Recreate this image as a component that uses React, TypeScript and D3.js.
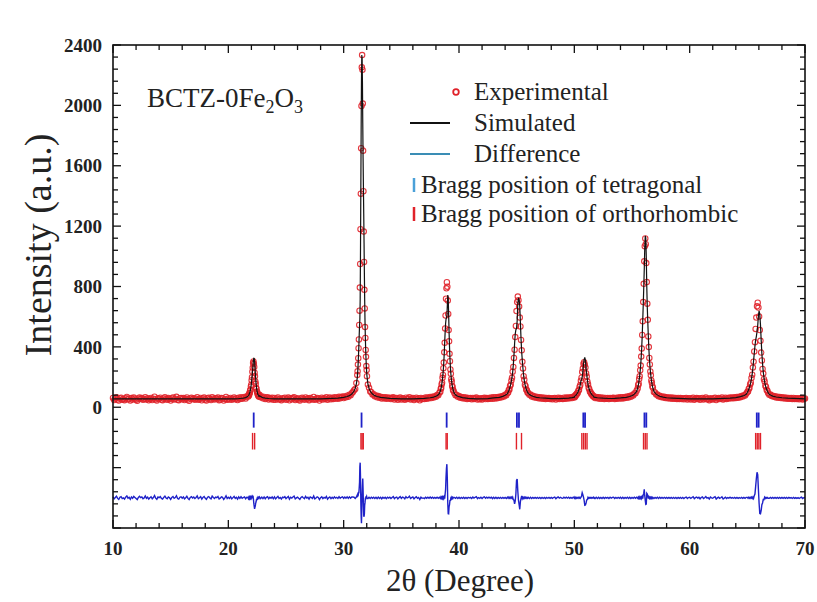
import React from "react";
import * as d3 from "d3";

const _ = null;

// axis ticks
const xTickLabels = [10, 20, 30, 40, 50, 60, 70];
const yTickLabels = [0, 400, 800, 1200, 1600, 2000, 2400];
const X_DOMAIN = [10, 70];
const Y_DOMAIN = [-800, 2400];
const DIFF_OFFSET = -600;

// experimental scan away from the peaks: one value every 0.1 deg from 10 to 70 (null = covered by the fine peak scans)
const BG_START = 10;
const BG_STEP = 0.1;
const expBackground: (number | null)[] = [
  62, 48, 57, 66, 51, 44, 59, 63, 50, 55,
  47, 60, 68, 53, 58, 45, 61, 52, 64, 57,
  50, 43, 58, 65, 56, 61, 49, 54, 67, 52,
  59, 46, 55, 62, 48, 57, 70, 53, 45, 60,
  56, 63, 51, 47, 58, 66, 54, 49, 61, 55,
  44, 58, 64, 52, 57, 69, 50, 46, 59, 62,
  53, 61, 48, 56, 65, 51, 43, 58, 63, 54,
  60, 50, 57, 67, 49, 55, 62, 46, 58, 64,
  52, 45, 59, 63, 54, 48, 66, 57, 51, 60,
  56, 64, 47, 53, 61, 58, 44, 55, 68, 50,
  58, 51, 62, 49, 57, 65, 53, 60, 48, 63,
  54, 66, 57, 63, 68, 58, 71, _, _, _,
  _, _, _, _, _, _, _, 82, 66, 72,
  59, 68, 55, 63, 66, 52, 61, 54, 63, 50,
  62, 49, 58, 65, 51, 57, 47, 60, 56, 63,
  50, 57, 64, 46, 59, 53, 61, 67, 48, 55,
  60, 52, 45, 58, 63, 56, 50, 65, 54, 59,
  47, 61, 57, 52, 68, 49, 55, 62, 58, 44,
  57, 63, 51, 60, 55, 66, 49, 58, 64, 53,
  62, 55, 66, 58, 64, 57, 69, 60, 67, 71,
  61, 72, 66, 77, 70, 83, 79, 92, 101, 112,
  121, 160, _, _, _, _, _, _, _, _,
  _, 150, 129, 104, 100, 84, 86, 73, 78, 66,
  74, 63, 69, 58, 67, 60, 66, 56, 64, 58,
  63, 54, 61, 66, 52, 59, 62, 50, 58, 64,
  52, 60, 57, 49, 63, 55, 58, 66, 51, 56,
  61, 48, 57, 63, 53, 59, 46, 62, 55, 58,
  54, 64, 57, 65, 59, 68, 61, 70, 64, 73,
  70, 81, 80, 96, _, _, _, _, _, _,
  _, _, _, _, _, _, 95, 80, 81, 69,
  74, 63, 68, 60, 67, 58, 64, 55, 62, 57,
  61, 53, 62, 55, 60, 64, 51, 58, 53, 60,
  52, 59, 63, 54, 61, 55, 62, 57, 64, 56,
  66, 58, 67, 60, 68, 63, 71, 66, 75, 72,
  82, 80, 94, _, _, _, _, _, _, _,
  _, _, _, _, _, _, _, _, _, _,
  95, 82, 84, 72, 76, 67, 71, 63, 68, 60,
  66, 58, 64, 57, 63, 55, 62, 56, 61, 54,
  60, 53, 59, 62, 51, 58, 63, 55, 61, 56,
  55, 63, 57, 64, 58, 65, 59, 66, 61, 69,
  64, _, _, _, _, _, _, _, _, _,
  _, _, _, _, _, _, _, 70, 61, 68,
  59, 66, 57, 64, 56, 63, 55, 62, 57, 61,
  54, 62, 56, 61, 63, 55, 62, 57, 64, 58,
  66, 58, 67, 60, 68, 63, 71, 65, 75, 70,
  80, 78, 91, 92, 109, _, _, _, _, _,
  _, _, _, _, _, _, _, _, _, 101,
  98, 84, 85, 73, 77, 68, 72, 64, 69, 61,
  66, 59, 65, 58, 64, 57, 63, 56, 62, 55,
  62, 55, 61, 54, 60, 53, 59, 62, 52, 58,
  60, 52, 58, 63, 50, 57, 61, 54, 59, 49,
  58, 62, 51, 56, 64, 53, 57, 47, 60, 55,
  52, 59, 63, 48, 56, 61, 54, 58, 65, 51,
  57, 63, 55, 62, 58, 65, 59, 64, 60, 66,
  61, 68, 63, 70, 67, 75, 71, 80, 78, 89,
  _, _, _, _, _, _, _, _, _, _,
  _, _, _, _, _, _, _, _, _, 83,
  84, 74, 77, 69, 73, 65, 70, 63, 68, 61,
  66, 59, 64, 58, 63, 56, 62, 57, 61, 55,
  62, 55, 60, 54, 59, 53, 58, 61, 52, 57,
  58,
];

// fine scans across the reflections: 31 points centred on each peak
const peakCenter = [22.18, 31.6, 38.95, 45.1, 50.85, 56.15, 65.9];
const peakStep = [0.032, 0.028, 0.038, 0.056, 0.056, 0.044, 0.06];

const expPeak22 = [74, 71, 82, 80, 95, 94, 111, 116, 137, 149, 179, 198, 236, 261, 293, 303, 286, 267, 229, 205, 171, 155, 130, 122, 104, 101, 88, 86, 76, 77, 70];
const expPeak31 = [214, 238, 283, 325, 391, 449, 545, 640, 793, 949, 1180, 1415, 1716, 1996, 2252, 2333, 2236, 2012, 1700, 1431, 1164, 963, 778, 655, 531, 459, 380, 334, 273, 246, 206];
const expPeak39 = [103, 122, 127, 151, 163, 195, 214, 259, 296, 364, 427, 522, 608, 719, 788, 828, 799, 707, 618, 511, 437, 354, 305, 250, 222, 186, 170, 143, 133, 115, 110];
const expPeak45 = [98, 114, 118, 140, 150, 177, 195, 236, 267, 327, 381, 465, 539, 637, 698, 733, 709, 667, 594, 535, 446, 377, 301, 257, 206, 183, 149, 139, 118, 113, 98];
const expPeak51 = [73, 70, 82, 81, 93, 95, 109, 114, 135, 147, 176, 196, 233, 256, 289, 298, 281, 263, 225, 203, 170, 153, 129, 119, 103, 99, 87, 86, 77, 77, 69];
const expPeak56 = [124, 146, 155, 187, 205, 245, 276, 336, 389, 479, 569, 697, 818, 967, 1067, 1118, 1080, 955, 829, 686, 579, 469, 399, 327, 284, 237, 212, 178, 162, 139, 130];
const expPeak66 = [101, 104, 121, 128, 151, 163, 194, 216, 263, 302, 370, 431, 519, 594, 669, 693, 661, 602, 511, 440, 362, 310, 254, 224, 186, 170, 143, 134, 114, 109, 95];

const simPeak22 = [72, 75, 79, 84, 91, 98, 107, 119, 133, 152, 175, 202, 225, 254, 285, 315, 325, 324, 303, 267, 225, 190, 158, 135, 117, 104, 94, 84, 79, 75, 72];
const simPeak31 = [195, 224, 258, 304, 356, 414, 478, 538, 585, 716, 1042, 1443, 1838, 2164, 2334, 2315, 2154, 1884, 1648, 1463, 1282, 1088, 885, 703, 563, 464, 386, 324, 270, 237, 207];
const simPeak39 = [107, 118, 130, 147, 167, 190, 218, 255, 301, 359, 432, 497, 553, 583, 594, 605, 674, 743, 723, 617, 497, 399, 323, 267, 224, 193, 167, 147, 130, 118, 107];
const simPeak45 = [101, 110, 121, 136, 153, 173, 198, 231, 279, 342, 421, 485, 514, 522, 573, 690, 725, 712, 670, 560, 450, 364, 306, 253, 210, 179, 153, 136, 121, 110, 101];
const simPeak51 = [71, 75, 79, 84, 90, 97, 106, 117, 132, 150, 173, 184, 199, 235, 285, 315, 330, 310, 259, 217, 181, 150, 132, 117, 106, 97, 90, 84, 79, 75, 71];
const simPeak56 = [127, 142, 159, 182, 209, 241, 280, 331, 394, 474, 574, 676, 789, 911, 1053, 1135, 1123, 996, 799, 661, 564, 474, 394, 331, 280, 241, 209, 182, 159, 142, 127];
const simPeak66 = [98, 107, 117, 131, 147, 166, 190, 220, 258, 306, 356, 406, 445, 468, 500, 540, 605, 638, 615, 546, 446, 356, 288, 235, 198, 166, 147, 131, 117, 107, 98];

// simulated profile between the peaks: [2theta, intensity]
const simBackground: [number, number][] = [
  [10, 55], [20, 55], [20.5, 56], [20.9, 57], [21.0, 58], [21.3, 61], [21.5, 64], [21.6, 68],
  [22.7, 76], [22.8, 71], [22.9, 67], [23.0, 64], [23.2, 61], [23.5, 58], [24.0, 56], [24.5, 55],
  [28.0, 56], [29.0, 59], [29.5, 61], [30.0, 65], [30.3, 71], [30.5, 77], [30.7, 87], [30.8, 96],
  [30.9, 108], [31.0, 125], [31.1, 155],
  [32.1, 155], [32.2, 125], [32.3, 108], [32.4, 96], [32.5, 87], [32.7, 77], [32.9, 71], [33.2, 65],
  [33.6, 62], [34.0, 59], [35.0, 56], [36.0, 55], [37.0, 59], [37.5, 63], [37.8, 67], [38.0, 73],
  [38.1, 77], [38.2, 83], [38.3, 92],
  [39.6, 92], [39.7, 83], [39.8, 77], [39.9, 73], [40.0, 70], [40.3, 64], [40.8, 59], [41.5, 56],
  [42.5, 57], [43.0, 62], [43.5, 66], [43.8, 72], [44.0, 79], [44.1, 84], [44.2, 90],
  [46.0, 92], [46.1, 86], [46.2, 80], [46.4, 73], [46.7, 66], [47.0, 63], [47.5, 60], [48.0, 57],
  [48.7, 57], [49.5, 61], [49.8, 64], [50.0, 67],
  [51.7, 67], [52.0, 63], [52.5, 60], [53.0, 58], [53.5, 59], [54.0, 62], [54.5, 66], [54.8, 71],
  [55.0, 77], [55.1, 81], [55.2, 87], [55.3, 95], [55.4, 105],
  [56.9, 105], [57.0, 95], [57.1, 87], [57.2, 81], [57.4, 73], [57.7, 67], [58.0, 63], [58.5, 61],
  [59.0, 59], [60.0, 56], [62.0, 55], [63.0, 59], [63.5, 61], [64.0, 64], [64.4, 70], [64.7, 77],
  [64.8, 81], [64.9, 86],
  [66.9, 86], [67.0, 81], [67.2, 74], [67.5, 68], [68.0, 63], [68.5, 60], [69.0, 59], [70.0, 56],
];

// Bragg reflection positions (2theta)
const braggTetragonal = [22.2, 31.55, 38.93, 45.02, 45.2, 50.78, 50.93, 56.08, 56.24, 65.82, 65.98];
const braggOrthorhombic = [22.1, 22.28, 31.5, 31.6, 31.7, 38.88, 38.98, 44.98, 45.42, 50.65, 50.8, 50.95, 51.1, 56.0, 56.15, 56.3, 65.72, 65.86, 66.0, 66.14];

const expPeaks = [expPeak22, expPeak31, expPeak39, expPeak45, expPeak51, expPeak56, expPeak66];
const simPeaks = [simPeak22, simPeak31, simPeak39, simPeak45, simPeak51, simPeak56, simPeak66];

const SERIF = "'Liberation Serif', 'Times New Roman', serif";
const RED = "#e0222a";
const BLUE = "#1f22c8";

export default function App() {
  const left = 113, right = 805, top = 45, bottom = 528;
  const x = d3.scaleLinear().domain(X_DOMAIN).range([left, right]);
  const y = d3.scaleLinear().domain(Y_DOMAIN).range([bottom, top]);

  const expPoints: [number, number][] = [];
  expBackground.forEach((v, i) => {
    if (v !== null) expPoints.push([+(BG_START + i * BG_STEP).toFixed(2), v]);
  });
  expPeaks.forEach((arr, p) =>
    arr.forEach((v, j) => expPoints.push([peakCenter[p] + (j - 15) * peakStep[p], v]))
  );
  expPoints.sort((a, b) => a[0] - b[0]);

  const simPoints: [number, number][] = simBackground.map((d) => [d[0], d[1]] as [number, number]);
  simPeaks.forEach((arr, p) =>
    arr.forEach((v, j) => simPoints.push([peakCenter[p] + (j - 15) * peakStep[p], v]))
  );
  simPoints.sort((a, b) => a[0] - b[0]);

  const bis = d3.bisector((d: [number, number]) => d[0]).left;
  const simAt = (xv: number) => {
    const i = bis(simPoints, xv);
    if (i <= 0) return simPoints[0][1];
    if (i >= simPoints.length) return simPoints[simPoints.length - 1][1];
    const b = simPoints[i];
    if (b[0] === xv) return b[1];
    const a = simPoints[i - 1];
    const t = (xv - a[0]) / (b[0] - a[0]);
    return a[1] + t * (b[1] - a[1]);
  };
  const diffPoints: [number, number][] = expPoints.map(([xv, v]) => [xv, v - simAt(xv) + DIFF_OFFSET]);

  const line = d3
    .line<[number, number]>()
    .x((d) => x(d[0]))
    .y((d) => y(d[1]));

  const xMinor = d3.range(10, 70.001, 2);
  const yMinor = d3.range(-800, 2400.001, 80);

  return (
    <svg width={817} height={602} style={{ position: "absolute", left: 0, top: 0, background: "#fff" }}>
      <rect x={0} y={0} width={817} height={602} fill="#fff" />

      {/* experimental points */}
      <g fill="none" stroke={RED} strokeWidth={1.1} strokeOpacity={0.9}>
        {expPoints.map((d, i) => (
          <circle key={i} cx={x(d[0])} cy={y(d[1])} r={2.7} />
        ))}
      </g>
      {/* simulated */}
      <path d={line(simPoints) || ""} fill="none" stroke="#111" strokeWidth={1.2} />
      {/* difference */}
      <path d={line(diffPoints) || ""} fill="none" stroke={BLUE} strokeWidth={1.4} />

      {/* Bragg ticks */}
      <g stroke={BLUE} strokeWidth={1.8}>
        {braggTetragonal.map((b, i) => (
          <line key={i} x1={x(b)} x2={x(b)} y1={y(-35)} y2={y(-135)} />
        ))}
      </g>
      <g stroke={RED} strokeWidth={1.4}>
        {braggOrthorhombic.map((b, i) => (
          <line key={i} x1={x(b)} x2={x(b)} y1={y(-170)} y2={y(-280)} />
        ))}
      </g>

      {/* frame */}
      <rect x={left} y={top} width={right - left} height={bottom - top} fill="none" stroke="#111" strokeWidth={1.6} />

      {/* ticks */}
      <g stroke="#111" strokeWidth={1.3}>
        {xMinor.map((t, i) => {
          const major = Math.abs(t % 10) < 1e-6;
          const len = major ? 8 : 5;
          return (
            <g key={i}>
              <line x1={x(t)} x2={x(t)} y1={bottom} y2={bottom - len} />
              <line x1={x(t)} x2={x(t)} y1={top} y2={top + len} />
            </g>
          );
        })}
        {yMinor.map((t, i) => {
          const major = Math.abs(t % 400) < 1e-6;
          const len = major ? 8 : 5;
          return (
            <g key={"y" + i}>
              <line x1={left} x2={left + len} y1={y(t)} y2={y(t)} />
              <line x1={right} x2={right - len} y1={y(t)} y2={y(t)} />
            </g>
          );
        })}
      </g>

      {/* tick labels */}
      <g fontFamily={SERIF} fontWeight="bold" fontSize={19} fill="#222">
        {xTickLabels.map((t) => (
          <text key={t} x={x(t)} y={555} textAnchor="middle">
            {t}
          </text>
        ))}
        {yTickLabels.map((t) => (
          <text key={t} x={102} y={y(t)} dy="0.35em" textAnchor="end">
            {t}
          </text>
        ))}
      </g>

      {/* axis titles */}
      <text x={460} y={591} textAnchor="middle" fontFamily={SERIF} fontSize={31} fill="#222">
        2θ (Degree)
      </text>
      <text
        transform="translate(51,245) rotate(-90)"
        textAnchor="middle"
        fontFamily={SERIF}
        fontSize={38}
        fill="#222"
      >
        Intensity (a.u.)
      </text>

      {/* sample label */}
      <text x={147} y={107} fontFamily={SERIF} fontSize={27} fill="#222">
        BCTZ-0Fe
        <tspan dy={6} fontSize={18}>2</tspan>
        <tspan dy={-6}>O</tspan>
        <tspan dy={6} fontSize={18}>3</tspan>
      </text>

      {/* legend */}
      <g fontFamily={SERIF} fontSize={25} fill="#222">
        <circle cx={456} cy={92} r={2.8} fill="none" stroke={RED} strokeWidth={1.8} />
        <text x={474} y={100}>Experimental</text>
        <line x1={410} x2={450} y1={123} y2={123} stroke="#111" strokeWidth={2} />
        <text x={474} y={131}>Simulated</text>
        <line x1={410} x2={450} y1={154} y2={154} stroke="#3a8db5" strokeWidth={2} />
        <text x={474} y={162}>Difference</text>
        <line x1={414} x2={414} y1={178} y2={192} stroke="#4aa0d8" strokeWidth={2.5} />
        <text x={421} y={193}>Bragg position of tetragonal</text>
        <line x1={414} x2={414} y1={207} y2={221} stroke={RED} strokeWidth={2.5} />
        <text x={421} y={222}>Bragg position of orthorhombic</text>
      </g>
    </svg>
  );
}
